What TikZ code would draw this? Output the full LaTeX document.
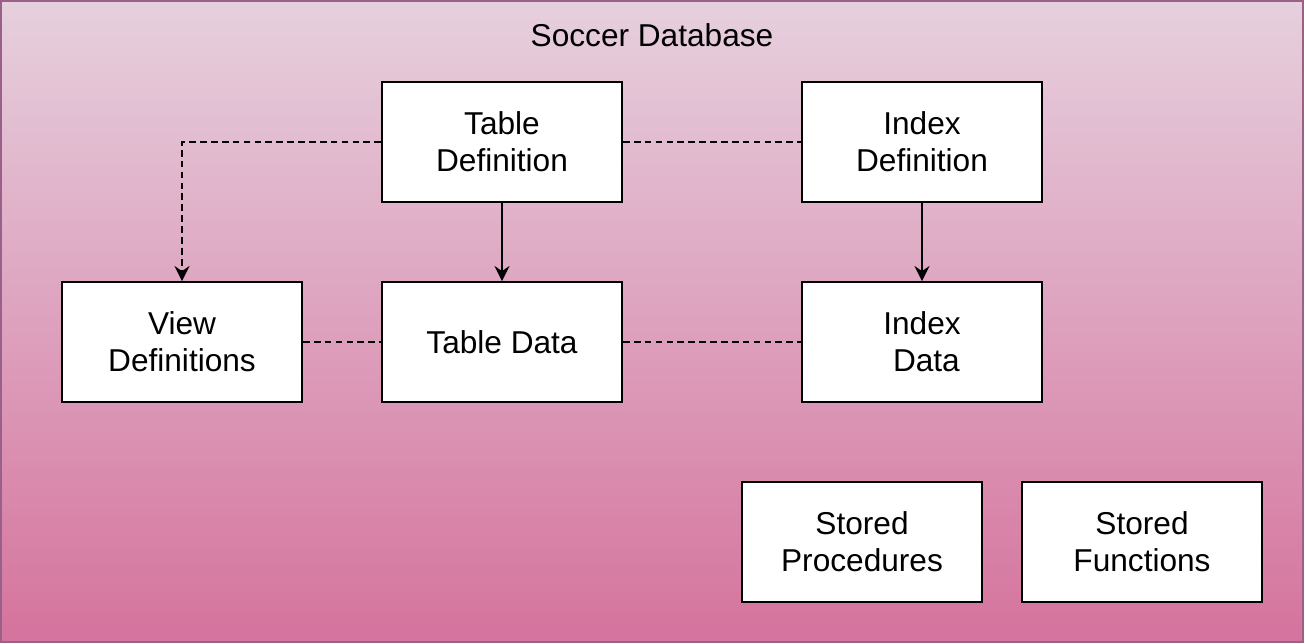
\documentclass[tikz,border=0pt]{standalone}
\usepackage{fontspec}
\setmainfont{Liberation Sans}
\usepackage{tikz}
\usetikzlibrary{arrows.meta}
\definecolor{dbtop}{HTML}{E6D0DE}
\definecolor{dbbottom}{HTML}{D5739D}
\definecolor{dbborder}{HTML}{996185}
\tikzstyle{block}=[draw=black, fill=white, line width=1.1pt, minimum width=4.8cm, minimum height=2.4cm, align=center, font=\fontsize{18}{21}\selectfont]
\tikzstyle{link}=[draw=black, line width=1.1pt, dash pattern=on 3.8pt off 2.4pt]
\tikzstyle{arrow}=[draw=black, line width=1.1pt, >={Stealth[length=3mm, width=3mm, inset=1mm]}]

\begin{document}
\begin{tikzpicture}[x=0.02cm, y=-0.02cm]
		   \useasboundingbox (0, 0) rectangle (1305, 644);
		   % database frame
		   \shade[top color=dbtop, bottom color=dbbottom] (1, 1) rectangle (1303, 642);
		   \draw[dbborder, line width=1.1pt] (1, 1) rectangle (1303, 642);
		   \node (title) at (652, 35)[font=\fontsize{18}{21}\selectfont] {Soccer Database};

		   \node (tabdef) at (502, 142)[block] {Table\\Definition};
		   \node (idxdef) at (922, 142)[block] {Index\\Definition};
		   \node (viewdef) at (182, 342)[block] {View\\Definitions};
		   \node (tabdata) at (502, 342)[block] {Table Data};
		   \node (idxdata) at (922, 342)[block] {Index\\\ Data};
		   \node (procs) at (862, 542)[block] {Stored\\Procedures};
		   \node (funcs) at (1142, 542)[block] {Stored\\Functions};

		   \draw[arrow, ->] (tabdef) -- (tabdata);
		   \draw[arrow, ->] (idxdef) -- (idxdata);
		   \draw[arrow, link, ->] (tabdef.west) -| (viewdef.north);
		   \draw[link] (tabdef) -- (idxdef);
		   \draw[link] (viewdef) -- (tabdata);
		   \draw[link] (tabdata) -- (idxdata);
	   \end{tikzpicture}
\end{document}
